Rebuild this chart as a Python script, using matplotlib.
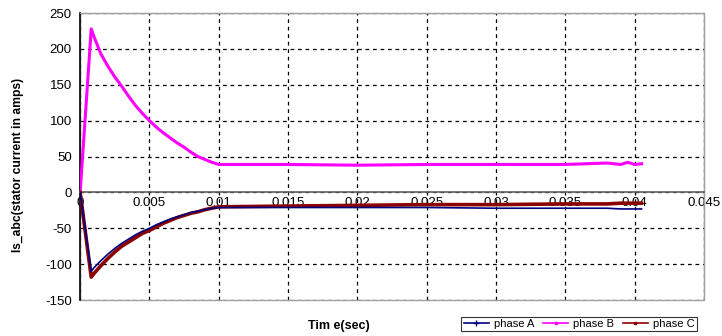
import matplotlib
matplotlib.use("Agg")
import matplotlib.pyplot as plt
from matplotlib.lines import Line2D
from matplotlib.patches import Rectangle

plt.rcParams["font.family"] = ["Liberation Sans", "DejaVu Sans"]
plt.rcParams["axes.unicode_minus"] = False

# time points (sec)
time_s = [0, 0.0008, 0.001, 0.0015, 0.002, 0.0025, 0.003, 0.0035, 0.004, 0.0045,
          0.005, 0.0055, 0.006, 0.0065, 0.007, 0.0075, 0.008, 0.0085, 0.009,
          0.0095, 0.01, 0.015, 0.02, 0.025, 0.03, 0.035, 0.038, 0.039, 0.0395,
          0.04, 0.0405]

phase_a = [0, -110, -105, -95, -86, -78, -71, -65, -59, -54,
           -50, -45, -41, -37, -34, -31, -28, -26, -24,
           -22, -21, -21, -21, -21, -22, -22, -22, -23, -23,
           -23, -23]

phase_b = [0, 228, 217, 193, 176, 161, 148, 134, 121, 110,
           100, 91, 83, 76, 69, 63, 56, 50, 46,
           42, 39, 39, 38, 39, 39, 39, 41, 39, 42,
           39, 40]

phase_c = [0, -118, -113, -102, -92, -83, -75, -69, -63, -57,
           -53, -48, -43, -39, -35, -32, -29, -27, -24,
           -22, -20, -19, -18, -17, -17, -16, -16, -15, -15,
           -15, -15]

x_ticks = [0, 0.005, 0.01, 0.015, 0.02, 0.025, 0.03, 0.035, 0.04, 0.045]
x_tick_labels = ["0", "0.005", "0.01", "0.015", "0.02", "0.025", "0.03",
                 "0.035", "0.04", "0.045"]
y_ticks = [-150, -100, -50, 0, 50, 100, 150, 200, 250]

fig = plt.figure(figsize=(7.22, 3.36), dpi=100)
ax = fig.add_axes([0.111, 0.107, 0.864, 0.854])

ax.plot(time_s, phase_b, color="#ff00ff", lw=2.2, label="phase B", zorder=3)
ax.plot(time_s, phase_c, color="#8b0000", lw=2.6, label="phase C", zorder=4)
ax.plot(time_s, phase_a, color="#000080", lw=1.2, label="phase A", zorder=5)

ax.set_xlim(0, 0.045)
ax.set_ylim(-150, 250)
ax.set_xticks(x_ticks)
ax.set_xticklabels(x_tick_labels)
ax.set_yticks(y_ticks)
ax.tick_params(axis="both", labelsize=9.5, length=0)
ax.tick_params(axis="x", pad=3)
ax.tick_params(axis="y", pad=6)

ax.grid(True, color="black", ls=(0, (3, 3)), lw=0.9)
ax.set_axisbelow(True)

# x axis sits on the zero line, plot area keeps a grey frame
ax.spines["bottom"].set_position(("data", 0))
ax.spines["bottom"].set_color("#606060")
ax.spines["bottom"].set_linewidth(1.2)
ax.spines["top"].set_color("#a0a0a0")
ax.spines["right"].set_color("#a0a0a0")
ax.spines["left"].set_color("black")
ax.spines["left"].set_linewidth(1.2)
ax.add_patch(Rectangle((0, 0), 1, 1, transform=ax.transAxes, fill=False,
                       edgecolor="#a0a0a0", lw=1.0, zorder=1, clip_on=False))

ax.set_ylabel("Is_abc(stator current in amps)", fontsize=8.7, fontweight="bold")
ax.yaxis.set_label_coords(-0.09, 0.47)
fig.text(0.47, 0.03, "Tim e(sec)", fontsize=9, fontweight="bold", ha="center",
         va="center")

handles = [
    Line2D([], [], color="#000080", lw=1.2, marker="+", ms=4),
    Line2D([], [], color="#ff00ff", lw=1.2, marker="s", ms=2),
    Line2D([], [], color="#8b0000", lw=1.2, marker="s", ms=2),
]
leg = fig.legend(handles, ["phase A", "phase B", "phase C"],
                 ncol=3, fontsize=8, loc="center",
                 bbox_to_anchor=(579 / 722, 1 - 324 / 336),
                 frameon=True, fancybox=False, edgecolor="black",
                 handlelength=2.3, handletextpad=0.4, columnspacing=0.8,
                 borderpad=0.2, borderaxespad=0)
leg.get_frame().set_linewidth(0.8)

fig.savefig("out.png", dpi=100)
